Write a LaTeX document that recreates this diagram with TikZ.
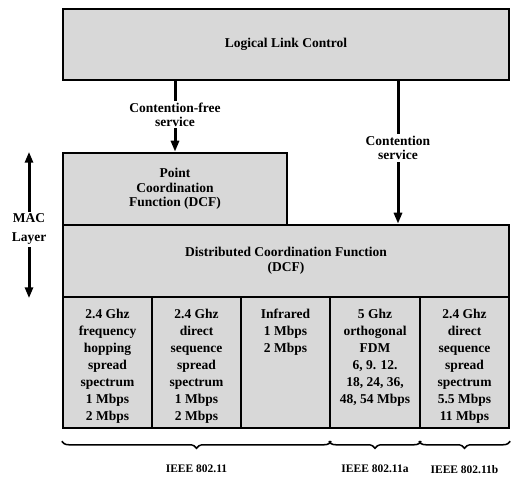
\documentclass[tikz,border=0pt]{standalone}
\usepackage{fontspec}
\setmainfont{Liberation Serif}
\usetikzlibrary{arrows.meta,decorations.pathreplacing}
\definecolor{boxgray}{RGB}{216,216,216}
\begin{document}
\begin{tikzpicture}[x=1pt,y=-1pt,
  box/.style={draw=black, line width=2.5pt, fill=boxgray, inner sep=0pt, align=center, font=\bfseries\fontsize{13.5}{14.5}\selectfont},
  celltext/.style={anchor=north, align=center, inner sep=0pt, font=\bfseries\fontsize{13.5}{17}\selectfont},
  lbl/.style={fill=white, align=center, inner sep=2pt, font=\bfseries\fontsize{13.5}{14}\selectfont},
  arr/.style={line width=3pt, -{Triangle[length=11pt,width=8pt]}},
  darr/.style={line width=3pt, {Triangle[length=11pt,width=8pt]}-{Triangle[length=11pt,width=8pt]}},
  brc/.style={decorate, decoration={brace, mirror, amplitude=7pt}, line width=1.5pt},
  std/.style={font=\bfseries\fontsize{11.5}{13}\selectfont}
]
\useasboundingbox (0,0) rectangle (528,500);

\node[box, minimum width=446pt, minimum height=71pt] (llc) at (286,44.5) {Logical Link Control};
\node[box, minimum width=224pt, minimum height=72pt] (pcf) at (175,189) {Point\\Coordination\\Function (DCF)};
\node[box, minimum width=446pt, minimum height=72pt] (dcf) at (286,261) {Distributed Coordination Function\\(DCF)};

\node[box, minimum width=89pt, minimum height=131pt] (c1) at (107.5,362.5) {};
\node[box, minimum width=89pt, minimum height=131pt] (c2) at (196.5,362.5) {};
\node[box, minimum width=89pt, minimum height=131pt] (c3) at (285.5,362.5) {};
\node[box, minimum width=90pt, minimum height=131pt] (c4) at (375,362.5) {};
\node[box, minimum width=89pt, minimum height=131pt] (c5) at (464.5,362.5) {};

\node[celltext] (t1) at ([yshift=-13pt]c1.north) {2.4 Ghz\\frequency\\hopping\\spread\\spectrum\\1 Mbps\\2 Mbps};
\node[celltext] (t2) at ([yshift=-13pt]c2.north) {2.4 Ghz\\direct\\sequence\\spread\\spectrum\\1 Mbps\\2 Mbps};
\node[celltext] (t3) at ([yshift=-13pt]c3.north) {Infrared\\1 Mbps\\2 Mbps};
\node[celltext] (t4) at ([yshift=-13pt]c4.north) {5 Ghz\\orthogonal\\FDM\\6, 9. 12.\\18, 24, 36,\\48, 54 Mbps};
\node[celltext] (t5) at ([yshift=-13pt]c5.north) {2.4 Ghz\\direct\\sequence\\spread\\spectrum\\5.5 Mbps\\11 Mbps};

\coordinate (cx) at (398,0);
\coordinate (mx) at (29,0);

\draw[arr] (pcf.north |- llc.south) -- (pcf.north)
  node[lbl, pos=0.47] (l1) {Contention-free\\service};
\draw[arr] (llc.south -| cx) -- (dcf.north -| cx)
  node[lbl, pos=0.47] (l2) {Contention\\service};
\draw[darr] (pcf.north -| mx) -- (dcf.south -| mx)
  node[lbl, pos=0.53, font=\bfseries\fontsize{13.5}{19}\selectfont] (l3) {MAC\\Layer};

\draw[brc] ([yshift=-12pt]c1.south west) -- ([yshift=-12pt]c3.south east)
  node[std, midway, yshift=-28pt] (b1) {IEEE 802.11};
\draw[brc] ([yshift=-12pt]c4.south west) -- ([yshift=-12pt]c4.south east)
  node[std, midway, yshift=-28pt] (b2) {IEEE 802.11a};
\draw[brc] ([yshift=-12pt]c5.south west) -- ([yshift=-12pt]c5.south east)
  node[std, midway, yshift=-28pt] (b3) {IEEE 802.11b};
\end{tikzpicture}
\end{document}
